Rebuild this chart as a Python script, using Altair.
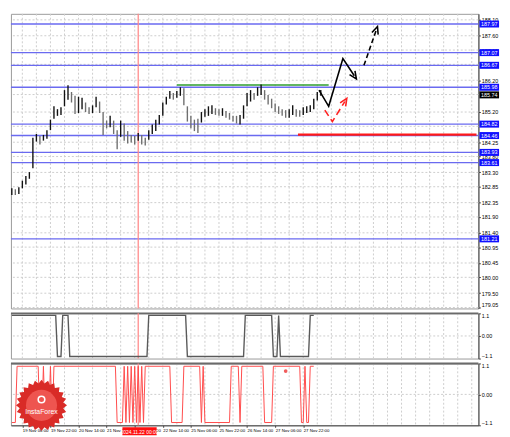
import math
import altair as alt
import pandas as pd

# ---------------- data ----------------
# hour index: 0 = 19 Nov 06:00 (H1 bars, weekend skipped)
bar_first_hour = -6
bar_step_hours = 2
bar_high = [182.80, 182.77, 182.83, 183.04, 183.19, 183.31, 184.39, 184.51, 184.45, 184.48,
            184.63, 184.96, 185.38, 185.29, 185.35, 185.89, 186.04, 185.83, 185.71, 185.68,
            185.65, 185.50, 185.35, 185.41, 185.68, 185.53, 185.20, 184.93, 185.08, 184.93,
            184.63, 184.93, 184.84, 184.60, 184.48, 184.45, 184.54, 184.48, 184.39, 184.63,
            184.81, 184.96, 185.11, 185.50, 185.68, 185.86, 185.80, 185.86, 185.98, 185.95,
            185.38, 185.08, 184.96, 184.99, 185.20, 185.29, 185.38, 185.41, 185.32, 185.29,
            185.32, 185.23, 185.17, 185.08, 185.08, 185.11, 185.41, 185.80, 185.89, 185.80,
            185.98, 186.07, 185.89, 185.74, 185.62, 185.47, 185.38, 185.29, 185.26, 185.29,
            185.41, 185.29, 185.26, 185.35, 185.38, 185.41, 185.62, 185.83, 185.89]
bar_low = [182.59, 182.59, 182.62, 182.80, 182.92, 183.10, 183.43, 184.27, 184.18, 184.30,
           184.36, 184.63, 184.99, 185.08, 185.11, 185.38, 185.59, 185.50, 185.14, 185.17,
           185.29, 185.20, 185.14, 185.17, 185.35, 185.17, 184.48, 184.69, 184.72, 184.51,
           184.03, 184.42, 184.30, 184.21, 184.24, 184.18, 184.30, 184.18, 184.15, 184.33,
           184.51, 184.60, 184.81, 185.08, 185.44, 185.62, 185.59, 185.65, 185.71, 185.41,
           184.90, 184.69, 184.60, 184.54, 184.87, 185.05, 185.08, 185.14, 185.11, 185.08,
           185.08, 185.02, 184.96, 184.90, 184.84, 184.81, 184.99, 185.38, 185.53, 185.59,
           185.71, 185.74, 185.59, 185.44, 185.32, 185.20, 185.14, 185.08, 185.02, 185.02,
           185.11, 185.05, 185.05, 185.11, 185.17, 185.20, 185.29, 185.56, 185.71]
last_price = 185.74

level_prices = [187.97, 187.07, 186.67, 185.98, 184.82, 184.46, 183.93, 183.61, 181.21]

grid_prices = [188.10, 187.60, 187.15, 186.70, 186.20, 185.75, 185.20, 184.75, 184.25, 183.80,
               183.30, 182.85, 182.35, 181.90, 181.40, 180.95, 180.45, 180.00, 179.50, 179.05]
label_prices = [188.10, 187.60, 187.15, 186.20, 185.20, 184.25, 183.80, 183.30, 182.85,
                182.35, 181.90, 181.40, 180.95, 180.45, 180.00, 179.50, 179.05]

green_line = {"h": [88.0], "h2": [174.5], "p": [186.05]}
red_line = {"h": [157.0], "h2": [258.7], "p": [184.49]}
marker_hour = 66

fc_main_h = [169.0, 174.5, 182.6, 189.1]
fc_main_p = [185.89, 185.38, 186.88, 186.34]
fc_dash_h = [194.6, 201.6]
fc_dash_p = [186.67, 187.78]
fc_red_h = [172.3, 176.6, 183.7]
fc_red_p = [185.26, 184.90, 185.53]

time_ticks = [0, 16, 32, 48, 64, 80, 96, 112, 128, 144, 160]
time_labels = ["19 Nov 06:00", "19 Nov 22:00", "20 Nov 14:00", "21 Nov 06:00", "21 Nov 22:00",
               "22 Nov 14:00", "25 Nov 06:00", "25 Nov 22:00", "26 Nov 14:00", "27 Nov 06:00",
               "27 Nov 22:00"]
marker_label = "2024.11.22 00:00"

osc_first_hour = -6
osc1_runs = [(1, 26), (-1, 3), (1, 4), (-1, 45), (1, 22), (-1, 33), (1, 16), (-1, 3), (1, 1),
             (-1, 17), (1, 3)]
osc2_runs = [(-1, 3), (1, 13), (-1, 2), (1, 1), (-1, 3), (1, 1), (-1, 1), (1, 36), (-1, 4),
             (1, 1), (-1, 1), (1, 1), (-1, 1), (1, 1), (-1, 1), (1, 1), (-1, 1), (1, 1), (-1, 1),
             (1, 1), (-1, 1), (1, 15), (-1, 7), (1, 10), (-1, 1), (1, 1), (-1, 15), (1, 5),
             (-1, 1), (1, 13), (-1, 5), (1, 16), (-1, 2), (1, 1), (-1, 2), (1, 3)]

# ---------------- layout / style ----------------
W, H1, H2, H3 = 476, 300, 46, 63
FONT = "Liberation Sans"
X_DOMAIN = [-6.5, 259.8]
Y_DOMAIN = [179.02, 188.29]
GRID_C = "#cdcdcd"
BLUE = "#6a6af0"

xs = alt.Scale(domain=X_DOMAIN, nice=False, zero=False)
ys = alt.Scale(domain=Y_DOMAIN, nice=False, zero=False)
os_ = alt.Scale(domain=[-1.1, 1.1], nice=False, zero=False)

ax_main = alt.Axis(orient="right", values=label_prices, format=".2f", labelFontSize=5.5,
                   labelFont=FONT, labelColor="#000", tickSize=2, tickColor="#444",
                   labelPadding=1, domainColor="#444", grid=False, title=None,
                   labelFlush=True, labelFlushOffset=0)
ax_osc = alt.Axis(orient="right", values=[-1.1, 0, 1.1],
                  labelExpr="datum.value == 0 ? '0.00' : format(datum.value, '.1f')",
                  labelFontSize=5.5, labelFont=FONT, labelColor="#000", tickSize=2,
                  tickColor="#444", labelPadding=1, domainColor="#444", grid=False, title=None,
                  labelFlush=True, labelFlushOffset=0)
lbl_expr = "[" + ",".join("'%s'" % s for s in time_labels) + "][round(datum.value / 16)]"
ax_time = alt.Axis(orient="bottom", values=time_ticks, labelExpr=lbl_expr, labelAlign="left",
                   labelFontSize=4.4, labelFont=FONT, labelColor="#000", tickSize=2,
                   tickColor="#444", labelPadding=1, labelOverlap=False, labelFlush=False,
                   domainColor="#444", grid=False, title=None, zindex=0)


def XM(f):
    return alt.X(f, type="quantitative", scale=xs, axis=None)


def YM(f):
    return alt.Y(f, type="quantitative", scale=ys, axis=ax_main)


# ---------------- main panel ----------------
vgrid_df = pd.DataFrame({"h": list(range(0, 260, 8))})
hgrid_df = pd.DataFrame({"p": grid_prices})

bars = pd.DataFrame({"h": [bar_first_hour + bar_step_hours * i for i in range(len(bar_high))],
                     "p": bar_high, "p2": bar_low})
mid = (bars["p"] + bars["p2"]) / 2
bars["up"] = (mid >= mid.shift(1).fillna(mid.iloc[0])).map({True: "u", False: "d"})

levels = pd.DataFrame({"p": level_prices, "lab": ["%.2f" % v for v in level_prices]})
levels["lo"] = levels["p"] - 0.11
levels["hi"] = levels["p"] + 0.11
cur = pd.DataFrame({"p": [last_price], "lab": ["%.2f" % last_price]})
cur["lo"] = cur["p"] - 0.11
cur["hi"] = cur["p"] + 0.11

fc_main = pd.DataFrame({"h": fc_main_h, "p": fc_main_p, "i": range(len(fc_main_h))})
fc_dash = pd.DataFrame({"h": fc_dash_h, "p": fc_dash_p, "i": range(len(fc_dash_h))})
fc_red = pd.DataFrame({"h": fc_red_h, "p": fc_red_p, "i": range(len(fc_red_h))})

chev = "M-0.8,0.9L0,-0.9L0.8,0.9"

main_layers = [
    alt.Chart(hgrid_df).mark_rule(color=GRID_C, strokeDash=[2, 2], strokeWidth=1).encode(y=YM("p")),
    alt.Chart(vgrid_df).mark_rule(color=GRID_C, strokeDash=[2, 2], strokeWidth=1).encode(x=XM("h")),
    alt.Chart(levels).mark_rule(color=BLUE, strokeWidth=1.4).encode(y=YM("p")),
    alt.Chart(pd.DataFrame(green_line)).mark_rule(color="#2f9e2f", strokeWidth=1.5).encode(
        x=XM("h"), x2="h2:Q", y=YM("p")),
    alt.Chart(pd.DataFrame(red_line)).mark_rule(color="#ff1a1a", strokeWidth=2.2).encode(
        x=XM("h"), x2="h2:Q", y=YM("p")),
    alt.Chart(pd.DataFrame({"h": [marker_hour]})).mark_rule(color="#ff8a8a", strokeWidth=1.3).encode(
        x=XM("h")),
    alt.Chart(bars).mark_rule(strokeWidth=1.4).encode(
        x=XM("h"), y=YM("p"), y2="p2:Q",
        color=alt.Color("up:N", scale=alt.Scale(domain=["u", "d"], range=["#111111", "#6f6f6f"]),
                        legend=None)),
    alt.Chart(fc_main).mark_line(color="black", strokeWidth=1.6).encode(
        x=XM("h"), y=YM("p"), order="i:Q"),
    alt.Chart(fc_dash).mark_line(color="black", strokeWidth=1.6, strokeDash=[5, 3]).encode(
        x=XM("h"), y=YM("p"), order="i:Q"),
    alt.Chart(fc_red).mark_line(color="#ff2020", strokeWidth=1.6, strokeDash=[7, 4]).encode(
        x=XM("h"), y=YM("p"), order="i:Q"),
    alt.Chart(fc_main.tail(1)).mark_point(shape=chev, filled=False, size=70, strokeWidth=1.6,
                                          color="black", opacity=1, angle=146).encode(
        x=XM("h"), y=YM("p")),
    alt.Chart(fc_dash.tail(1)).mark_point(shape=chev, filled=False, size=70, strokeWidth=1.6,
                                          color="black", opacity=1, angle=19).encode(
        x=XM("h"), y=YM("p")),
    alt.Chart(fc_red.tail(1)).mark_point(shape=chev, filled=False, size=70, strokeWidth=1.6,
                                         color="#ff2020", opacity=1, angle=32).encode(
        x=XM("h"), y=YM("p")),
    alt.Chart(levels).mark_rect(color="#1010ff").encode(
        x=alt.value(W + 1), x2=alt.value(W + 21), y=YM("lo"), y2="hi:Q"),
    alt.Chart(levels).mark_text(color="white", fontSize=5.5, font=FONT, align="center",
                                baseline="middle").encode(
        x=alt.value(W + 11), y=YM("p"), text="lab:N"),
    alt.Chart(cur).mark_rect(color="#000000").encode(
        x=alt.value(W + 1), x2=alt.value(W + 21), y=YM("lo"), y2="hi:Q"),
    alt.Chart(cur).mark_text(color="white", fontSize=5.5, font=FONT, align="center",
                             baseline="middle").encode(
        x=alt.value(W + 11), y=YM("p"), text="lab:N"),
]
main = alt.layer(*main_layers).properties(width=W, height=H1)


# ---------------- oscillators ----------------
def osc_table(runs, start):
    rows = []
    h = start
    for v, n in runs:
        rows.append({"h": h, "v": v})
        rows.append({"h": h + n - 1, "v": v})
        h += n
    df = pd.DataFrame(rows)
    df["i"] = range(len(df))
    return df


def YO(f):
    return alt.Y(f, type="quantitative", scale=os_, axis=ax_osc)


def osc_panel(df, color, width_px, height, xaxis, extra=()):
    X = lambda f: alt.X(f, type="quantitative", scale=xs, axis=xaxis)
    layers = [
        alt.Chart(vgrid_df).mark_rule(color=GRID_C, strokeDash=[2, 2], strokeWidth=1).encode(x=X("h")),
        alt.Chart(pd.DataFrame({"v": [0.0]})).mark_rule(color=GRID_C, strokeDash=[2, 2],
                                                         strokeWidth=1).encode(y=YO("v")),
        alt.Chart(pd.DataFrame({"v": [1.1]})).mark_rule(color="#6a6a6a", strokeWidth=2).encode(y=YO("v")),
        alt.Chart(pd.DataFrame({"h": [marker_hour]})).mark_rule(color="#ff8a8a", strokeWidth=1.3).encode(
            x=X("h")),
        alt.Chart(df).mark_line(color=color, strokeWidth=width_px).encode(
            x=X("h"), y=YO("v"), order="i:Q"),
    ]
    layers += [e(X) for e in extra]
    return alt.layer(*layers).properties(width=W, height=height)


osc1 = osc_panel(osc_table(osc1_runs, osc_first_hour), "#5a5a5a", 1.4, H2, None)

# star-burst logo outline
n_sp = 24
pts = []
for k in range(2 * n_sp):
    r = 1.0 if k % 2 == 0 else 0.86
    a = math.pi * k / n_sp
    pts.append("%.3f,%.3f" % (r * math.sin(a), -r * math.cos(a)))
star = "M" + "L".join(pts) + "Z"

logo_df = pd.DataFrame({"h": [10.9], "v": [-0.39]})
logo_txt = pd.DataFrame({"h": [10.9], "v": [-0.62], "t": ["InstaForex"]})
logo_ic = pd.DataFrame({"h": [10.9], "v": [-0.18]})
icon_df = pd.DataFrame({"h": [150.0], "v": [0.83]})
mark_df = pd.DataFrame({"h": [57.0], "h2": [76.5], "t": [marker_label], "hc": [66.75]})

extra3 = [
    lambda X: alt.Chart(logo_df).mark_point(shape=star, filled=True, color="#d92b27", size=2700,
                                            opacity=1, strokeWidth=0).encode(x=X("h"), y=YO("v")),
    lambda X: alt.Chart(logo_df).mark_point(shape="circle", filled=True, color="#ee5550", size=1000,
                                            opacity=1, strokeWidth=0).encode(x=X("h"), y=YO("v")),
    lambda X: alt.Chart(logo_ic).mark_point(shape="circle", filled=False, color="white", size=45,
                                            opacity=1, strokeWidth=1.6).encode(x=X("h"), y=YO("v")),
    lambda X: alt.Chart(logo_txt).mark_text(color="white", fontSize=7, font=FONT,
                                            align="center", baseline="middle").encode(
        x=X("h"), y=YO("v"), text="t:N"),
    lambda X: alt.Chart(icon_df).mark_point(shape="circle", filled=True, color="#e33",
                                            size=14, opacity=0.8).encode(x=X("h"), y=YO("v")),
    lambda X: alt.Chart(mark_df).mark_rect(color="#ff1010").encode(
        x=X("h"), x2="h2:Q", y=alt.value(H3 + 2), y2=alt.value(H3 + 10)),
    lambda X: alt.Chart(mark_df).mark_text(color="white", fontSize=5, font=FONT, align="center",
                                           baseline="middle").encode(
        x=X("hc"), y=alt.value(H3 + 6.5), text="t:N"),
]
osc2 = osc_panel(osc_table(osc2_runs, osc_first_hour), "#ff4a4a", 1.0, H3, ax_time, extra3)

chart = alt.vconcat(main, osc1, osc2, spacing=1).properties(
    padding={"left": 0, "top": 0, "right": 2, "bottom": 0}, background="white"
).configure_view(stroke="#9a9a9a", strokeWidth=1)

chart.save("out.html", embed_options={"renderer": "svg", "actions": False})
